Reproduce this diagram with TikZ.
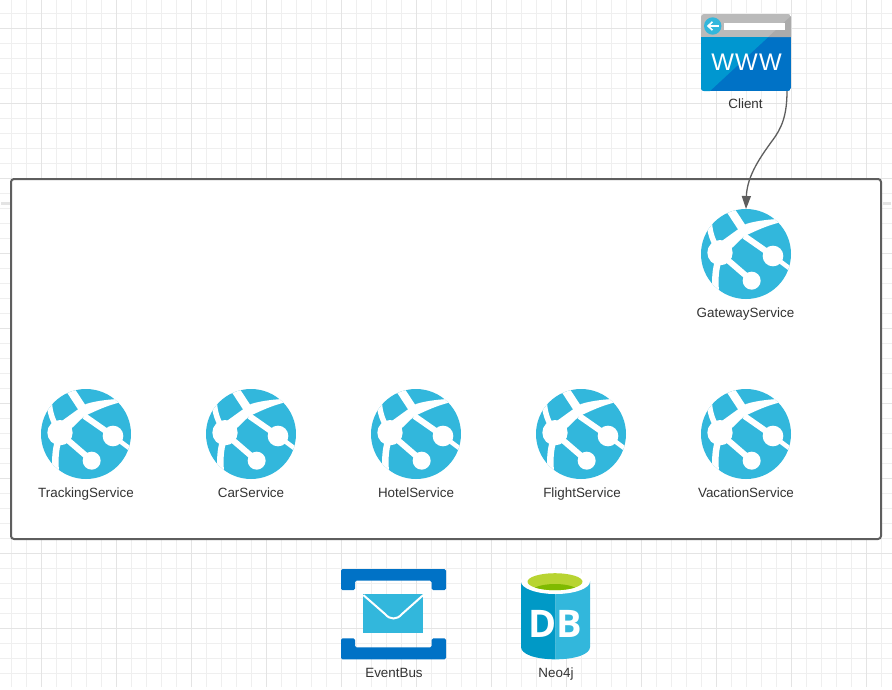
\documentclass[tikz,border=0pt]{standalone}
\usepackage{fontspec}
\setmainfont{Liberation Sans}
\newfontfamily\dbfont{Open Sans}
\newfontfamily\wwwfont[LetterSpace=5]{Liberation Sans}
\usetikzlibrary{arrows.meta,calc}
\definecolor{azlight}{HTML}{32B7DC}
\definecolor{azblue}{HTML}{0072C6}
\definecolor{azmid}{HTML}{0097D0}
\definecolor{azdark}{HTML}{0099C6}
\definecolor{lime}{HTML}{B8D432}
\definecolor{limedark}{HTML}{7FBA00}
\definecolor{edgegray}{HTML}{5E5E5E}
\definecolor{gridminor}{HTML}{EFEFEF}
\definecolor{gridmajor}{HTML}{E4E4E4}
\definecolor{labelgray}{HTML}{333333}
\tikzset{
  iconbox/.style={inner sep=0pt,outer sep=0pt,minimum width=90pt,minimum height=90pt},
  caption/.style={inner sep=0pt,anchor=base,text=labelgray,font=\fontsize{13.4}{15}\selectfont},
  flow/.style={draw=edgegray,line width=1.3pt,-{Triangle[length=13pt,width=9pt]}},
  globe/.pic={
    \begin{scope}[x=.3333pt,y=-.3333pt,shift={(-170,-162)}]
      \fill[azlight] (170,162) circle[radius=135];
      \begin{scope}
        \clip (170,162) circle[radius=135];
        \draw[white,line width=8.5pt] (118,22) -- (160,86);
        \fill[white] (300,56) .. controls (250,56) and (200,62) .. (170,72) -- (143,90) -- (89,129) -- (92,160) -- (130,142) -- (165,108) .. controls (190,98) and (240,70) .. (300,62) -- cycle;
        \draw[white,line width=5.5pt] (60,70) .. controls (62,95) and (68,118) .. (82,140);
        \draw[white,line width=6.5pt] (88,180) .. controls (78,205) and (74,250) .. (83,300);
        \draw[white,line width=6pt] (92,160) -- (187,242);
        \draw[white,line width=6pt] (165,108) -- (251,168);
        \draw[white,line width=4.5pt] (251,168) -- (310,212);
      \end{scope}
      \fill[white] (92,158) circle[radius=38];
      \fill[white] (251,168) circle[radius=31];
      \fill[white] (187,242) circle[radius=27];
    \end{scope}
  }
}
\begin{document}
\begin{tikzpicture}[x=1pt,y=-1pt]
\useasboundingbox (0,0) rectangle (892,689);
\fill[white] (0,0) rectangle (892,689);
% grid
\foreach \k in {0,...,44}{\draw[gridminor,line width=1.2pt] (0,13.3+15*\k) -- (892,13.3+15*\k);}
\foreach \k in {0,...,58}{\draw[gridminor,line width=1.2pt] (11.7+15*\k,0) -- (11.7+15*\k,687);}
\foreach \k in {0,...,8}{\draw[gridmajor,line width=1.2pt] (0,28.3+75*\k) -- (892,28.3+75*\k);}
\foreach \k in {0,...,11}{\draw[gridmajor,line width=1.2pt] (41.7+75*\k,0) -- (41.7+75*\k,687);}
% side marks
\draw[gridmajor,line width=3pt] (1,203) -- (10,203);
\draw[gridmajor,line width=3pt] (883,203) -- (891,203);
% container
\node[draw=edgegray,fill=white,line width=2pt,rounded corners=3pt,minimum width=870pt,minimum height=360pt,inner sep=0pt,outer sep=0pt] (system) at (446,359) {};
% client
\node[iconbox,minimum height=77pt] (client) at (746,52.5) {};
\begin{scope}
  \clip[rounded corners=3pt] (client.south west) rectangle (client.north east);
  \fill[azblue] (701,37) rectangle (791,91);
  \fill[azmid] (701,37) -- (768.3,37) -- (710,91) -- (701,91) -- cycle;
  \fill[black!27] (701,14) rectangle (791,37);
  \fill[black!33] (768.3,37) -- (791,16) -- (791,37) -- cycle;
\end{scope}
\fill[white] (724.3,22.7) rectangle (785,30);
\fill[azlight] (712.7,26) circle[radius=8.7];
\draw[white,line width=1.6pt] (718.5,26) -- (708.5,26);
\draw[white,line width=1.6pt] (712.5,21.8) -- (708,26) -- (712.5,30.2);
\node[inner sep=0pt,text=white,font=\wwwfont\fontsize{24}{24}\selectfont] (www) at (746.5,62) {WWW};
\node[caption] (clientlabel) at (745.5,108.3) {Client};
% services
\node[iconbox] (gateway) at (746,254) {};
\pic at (gateway) {globe};
\node[caption] (gatewaylabel) at (745.5,317.3) {GatewayService};
\node[iconbox] (tracking) at (86,434) {};
\pic at (tracking) {globe};
\node[caption] (trackinglabel) at (86,497.3) {TrackingService};
\node[iconbox] (car) at (251,434) {};
\pic at (car) {globe};
\node[caption] (carlabel) at (251,497.3) {CarService};
\node[iconbox] (hotel) at (416,434) {};
\pic at (hotel) {globe};
\node[caption] (hotellabel) at (416,497.3) {HotelService};
\node[iconbox] (flight) at (581,434) {};
\pic at (flight) {globe};
\node[caption] (flightlabel) at (582,497.3) {FlightService};
\node[iconbox] (vacation) at (746,434) {};
\pic at (vacation) {globe};
\node[caption] (vacationlabel) at (746,497.3) {VacationService};
% event bus
\node[iconbox,minimum width=105pt,minimum height=90pt] (eventbus) at (393.5,614) {};
\fill[azblue,rounded corners=1.5pt] (341,569) -- (446,569) -- (446,590) -- (431.7,590) -- (431.7,580.7) -- (355,580.7) -- (355,590) -- (341,590) -- cycle;
\fill[azblue,rounded corners=1.5pt] (341,659.3) -- (446,659.3) -- (446,638.3) -- (431.7,638.3) -- (431.7,647.3) -- (355,647.3) -- (355,638.3) -- (341,638.3) -- cycle;
\fill[azlight] (363.3,594.3) rectangle (423.3,633.3);
\draw[white,line width=2pt] (363.3,595) -- (385,614) .. controls (390,620) and (397,620) .. (402,614) -- (423.3,595);
\node[caption] (eventbuslabel) at (394,677.3) {EventBus};
% database
\node[iconbox,minimum width=69pt,minimum height=90pt] (neo) at (555.5,614) {};
\fill[azdark] (521,581) -- (555.5,581) -- (555.5,659.3) .. controls (535,659.3) and (521,654) .. (521,647) -- cycle;
\fill[azlight] (590,581) -- (555.5,581) -- (555.5,659.3) .. controls (576,659.3) and (590,654) .. (590,647) -- cycle;
\fill[white] (555.5,581.5) ellipse[x radius=34.5,y radius=12.5];
\fill[lime] (555,581.7) ellipse[x radius=27.5,y radius=8.5];
\begin{scope}
  \clip (555,581.7) ellipse[x radius=27.5,y radius=8.5];
  \fill[limedark] (555,592) ellipse[x radius=24,y radius=8];
\end{scope}
\node[inner sep=0pt,text=white,font=\dbfont\bfseries\fontsize{38}{38}\selectfont] (dbtext) at (555,623.5) {DB};
\node[caption] (neolabel) at (556,677.3) {Neo4j};
% connector
\draw[flow] ($(client.south east)+(-4,0)$) .. controls (787,115) and (782,128) .. (772,141) .. controls (762,155) and (747,175) .. (gateway.north);
\end{tikzpicture}
\end{document}
